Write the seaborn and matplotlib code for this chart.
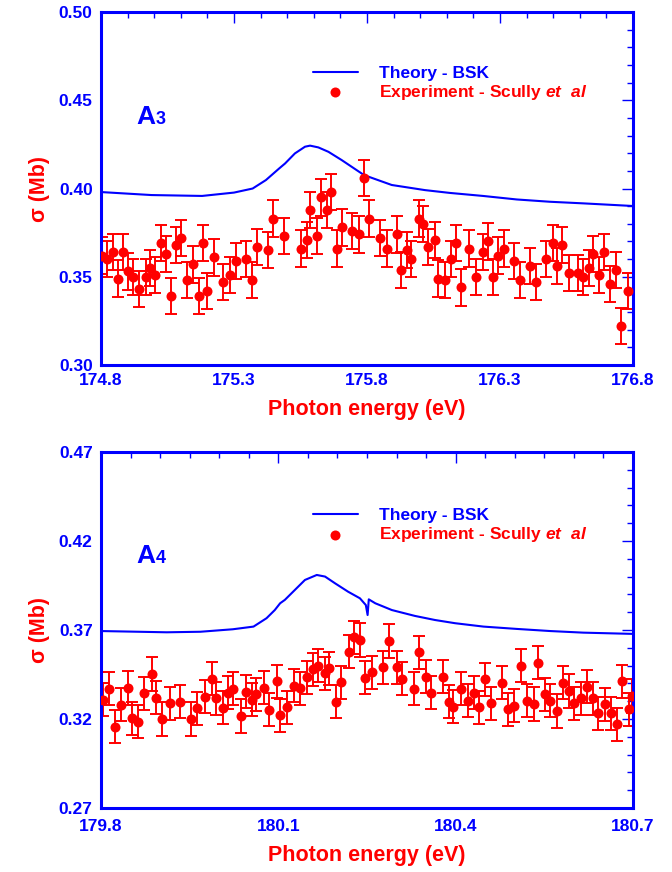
import numpy as np
import pandas as pd
import matplotlib
matplotlib.use("Agg")
import matplotlib.pyplot as plt
import matplotlib.transforms as mtransforms
from matplotlib.ticker import FixedLocator, MultipleLocator
import seaborn as sns

# ---------------- data: panel A3 ----------------
a3_exp_x = [174.803, 174.824, 174.844, 174.865, 174.884, 174.903, 174.919, 174.942, 174.968, 174.984,
            175.003, 175.024, 175.044, 175.063, 175.082, 175.102, 175.122, 175.147, 175.167, 175.185,
            175.200, 175.226, 175.260, 175.285, 175.306, 175.345, 175.367, 175.388, 175.427, 175.447,
            175.489, 175.550, 175.574, 175.586, 175.612, 175.627, 175.651, 175.665, 175.688, 175.705,
            175.745, 175.771, 175.789, 175.809, 175.849, 175.876, 175.914, 175.928, 175.952, 175.965,
            175.996, 176.012, 176.028, 176.056, 176.068, 176.093, 176.116, 176.135, 176.152, 176.183,
            176.210, 176.235, 176.254, 176.273, 176.294, 176.316, 176.354, 176.374, 176.413, 176.435,
            176.472, 176.498, 176.515, 176.534, 176.558, 176.594, 176.613, 176.635, 176.648, 176.672,
            176.692, 176.714, 176.735, 176.754, 176.780]
a3_exp_y = [0.362, 0.360, 0.364, 0.349, 0.364, 0.353, 0.350, 0.343, 0.350, 0.355,
            0.351, 0.369, 0.363, 0.339, 0.368, 0.372, 0.348, 0.357, 0.339, 0.369,
            0.342, 0.361, 0.347, 0.351, 0.359, 0.360, 0.348, 0.367, 0.365, 0.383,
            0.373, 0.366, 0.371, 0.388, 0.373, 0.395, 0.388, 0.398, 0.366, 0.378,
            0.376, 0.374, 0.406, 0.383, 0.372, 0.366, 0.374, 0.354, 0.365, 0.360,
            0.383, 0.380, 0.367, 0.371, 0.349, 0.348, 0.360, 0.369, 0.344, 0.366,
            0.350, 0.364, 0.370, 0.350, 0.362, 0.366, 0.359, 0.348, 0.356, 0.347,
            0.360, 0.369, 0.356, 0.368, 0.352, 0.352, 0.350, 0.355, 0.363, 0.351,
            0.364, 0.346, 0.354, 0.322, 0.342]
a3_exp_err = [0.0103] * len(a3_exp_x)

a3_th_x = [174.80, 174.99, 175.18, 175.30, 175.37, 175.42, 175.47, 175.492, 175.529, 175.567,
           175.586, 175.617, 175.655, 175.705, 175.789, 175.893, 176.018, 176.112, 176.236,
           176.363, 176.488, 176.612, 176.80]
a3_th_y = [0.3980, 0.3963, 0.3958, 0.3977, 0.4000, 0.4048, 0.4114, 0.4142, 0.4199, 0.4237,
           0.4243, 0.4233, 0.4208, 0.4161, 0.4076, 0.4020, 0.3991, 0.3975, 0.3958,
           0.3938, 0.3925, 0.3916, 0.3901]

# ---------------- data: panel A4 ----------------
a4_exp_x = [179.804, 179.814, 179.823, 179.833, 179.845, 179.852, 179.863, 179.873, 179.886, 179.893,
            179.904, 179.916, 179.934, 179.953, 179.963, 179.976, 179.987, 179.995, 180.006, 180.014,
            180.024, 180.036, 180.045, 180.055, 180.063, 180.076, 180.085, 180.097, 180.103, 180.114,
            180.127, 180.137, 180.149, 180.158, 180.167, 180.179, 180.186, 180.197, 180.206, 180.220,
            180.228, 180.238, 180.247, 180.258, 180.277, 180.288, 180.301, 180.309, 180.330, 180.338,
            180.349, 180.358, 180.379, 180.388, 180.396, 180.409, 180.420, 180.431, 180.440, 180.449,
            180.459, 180.479, 180.489, 180.499, 180.511, 180.521, 180.532, 180.540, 180.551, 180.560,
            180.571, 180.581, 180.591, 180.600, 180.612, 180.622, 180.632, 180.640, 180.652, 180.663,
            180.673, 180.681, 180.693, 180.698]
a4_exp_y = [0.3307, 0.3369, 0.3157, 0.3279, 0.3374, 0.3204, 0.3185, 0.3344, 0.3453, 0.3320,
            0.3200, 0.3288, 0.3297, 0.3200, 0.3260, 0.3325, 0.3425, 0.3316, 0.3264, 0.3348,
            0.3369, 0.3217, 0.3353, 0.3307, 0.3339, 0.3376, 0.3251, 0.3413, 0.3222, 0.3266,
            0.3387, 0.3372, 0.3434, 0.3479, 0.3498, 0.3457, 0.3485, 0.3297, 0.3406, 0.3578,
            0.3659, 0.3644, 0.3432, 0.3462, 0.3490, 0.3638, 0.3490, 0.3425, 0.3369, 0.3575,
            0.3438, 0.3348, 0.3438, 0.3297, 0.3269, 0.3369, 0.3303, 0.3348, 0.3266, 0.3423,
            0.3288, 0.3404, 0.3254, 0.3275, 0.3500, 0.3303, 0.3284, 0.3516, 0.3339, 0.3303,
            0.3245, 0.3404, 0.3357, 0.3288, 0.3316, 0.3381, 0.3316, 0.3232, 0.3283, 0.3232,
            0.3171, 0.3413, 0.3254, 0.3329]
a4_exp_err = [0.0093] * len(a4_exp_x)

a4_th_x = [179.800, 179.911, 179.968, 180.023, 180.058, 180.080, 180.094, 180.103, 180.111, 180.128,
           180.145, 180.165, 180.179, 180.196, 180.218, 180.238, 180.248, 180.251, 180.253, 180.264,
           180.292, 180.331, 180.365, 180.399, 180.447, 180.503, 180.560, 180.616, 180.700]
a4_th_y = [0.3694, 0.3687, 0.3690, 0.3704, 0.3719, 0.3766, 0.3812, 0.3850, 0.3869, 0.3925,
           0.3981, 0.4009, 0.4000, 0.3962, 0.3915, 0.3878, 0.3840, 0.3784, 0.3872, 0.3850,
           0.3812, 0.3779, 0.3756, 0.3738, 0.3719, 0.3706, 0.3694, 0.3685, 0.3678]

# ---------------- axis setup ----------------
a3_xticks = [174.8, 175.3, 175.8, 176.3, 176.8]
a3_yticks = [0.30, 0.35, 0.40, 0.45, 0.50]
a4_xticks = [179.8, 180.1, 180.4, 180.7]
a4_yticks = [0.27, 0.32, 0.37, 0.42, 0.47]

BLUE = "#0000FF"
RED = "#FF0000"

sns.set_style("white")
plt.rcParams["font.family"] = ["Liberation Sans", "DejaVu Sans"]
plt.rcParams["font.weight"] = "bold"
plt.rcParams["mathtext.fontset"] = "custom"
plt.rcParams["mathtext.it"] = "Liberation Sans:italic:bold"
plt.rcParams["mathtext.rm"] = "Liberation Sans:bold"
plt.rcParams["mathtext.bf"] = "Liberation Sans:bold"

fig = plt.figure(figsize=(6.72, 8.72), dpi=100)
ax1 = fig.add_axes([0.1503, 0.5814, 0.7917, 0.4048])
ax2 = fig.add_axes([0.1503, 0.0734, 0.7917, 0.4083])


def draw_panel(ax, ex, ey, eerr, tx, ty, xticks, yticks, xminor, label_sub, lab_y, leg_y, xpad):
    exp_df = pd.DataFrame({"E": ex, "sigma": ey})
    th_df = pd.DataFrame({"E": tx, "sigma": ty})
    ax.errorbar(ex, ey, yerr=eerr, fmt="none", ecolor=RED, elinewidth=1.4,
                capsize=4.6, capthick=1.4, zorder=2)
    sns.lineplot(data=th_df, x="E", y="sigma", ax=ax, color=BLUE, linewidth=1.5,
                 label="Theory - BSK", zorder=3)
    sns.scatterplot(data=exp_df, x="E", y="sigma", ax=ax, color=RED, s=52,
                    edgecolor=RED, linewidth=0, label="Experiment - Scully $\\mathit{et\\ \\ al}$",
                    zorder=4)
    ax.set_xlim(xticks[0], xticks[-1])
    ax.set_ylim(yticks[0], yticks[-1])
    ax.xaxis.set_major_locator(FixedLocator(xticks))
    ax.yaxis.set_major_locator(FixedLocator(yticks))
    ax.set_xticklabels([f"{v:.1f}" for v in xticks])
    ax.set_yticklabels([f"{v:.2f}" for v in yticks])
    ax.xaxis.set_minor_locator(MultipleLocator(xminor))
    ax.yaxis.set_minor_locator(MultipleLocator(0.01))
    ax.tick_params(which="both", direction="in", top=True, right=True,
                   color=BLUE, labelcolor=BLUE, labelsize=12.5, width=1.0)
    ax.tick_params(which="major", length=7.7)
    ax.tick_params(which="minor", length=4.6)
    ax.tick_params(axis="y", pad=6)
    ax.tick_params(axis="x", pad=xpad)
    for t in ax.get_xticklabels() + ax.get_yticklabels():
        t.set_fontweight("bold")
    for sp in ax.spines.values():
        sp.set_color(BLUE)
        sp.set_linewidth(2.2)
    ax.set_xlabel("Photon energy (eV)", color=RED, fontsize=15.5, fontweight="bold", labelpad=8)
    ax.set_ylabel("σ (Mb)", color=RED, fontsize=15.5, fontweight="bold", labelpad=6)

    leg = ax.legend(loc="upper left", bbox_to_anchor=(0.385, leg_y), frameon=False,
                    fontsize=12.5, handlelength=2.6, handletextpad=1.2,
                    labelspacing=0.12, borderaxespad=0.0)
    cols = [BLUE, RED]
    for txt, c in zip(leg.get_texts(), cols):
        txt.set_color(c)
        txt.set_fontweight("bold")

    # panel label  A + small index
    ax.text(0.066, lab_y, "A", transform=ax.transAxes, color=BLUE,
            fontsize=19, fontweight="bold", ha="left", va="baseline")
    off = mtransforms.offset_copy(ax.transAxes, fig=fig, x=13.8, y=0, units="points")
    ax.text(0.066, lab_y, label_sub, transform=off, color=BLUE,
            fontsize=13, fontweight="bold", ha="left", va="baseline")


draw_panel(ax1, a3_exp_x, a3_exp_y, a3_exp_err, a3_th_x, a3_th_y,
           a3_xticks, a3_yticks, 0.1, "3", 0.683, 0.868, 6)
draw_panel(ax2, a4_exp_x, a4_exp_y, a4_exp_err, a4_th_x, a4_th_y,
           a4_xticks, a4_yticks, 0.05, "4", 0.688, 0.862, 8)

fig.savefig("out.png", dpi=100)
